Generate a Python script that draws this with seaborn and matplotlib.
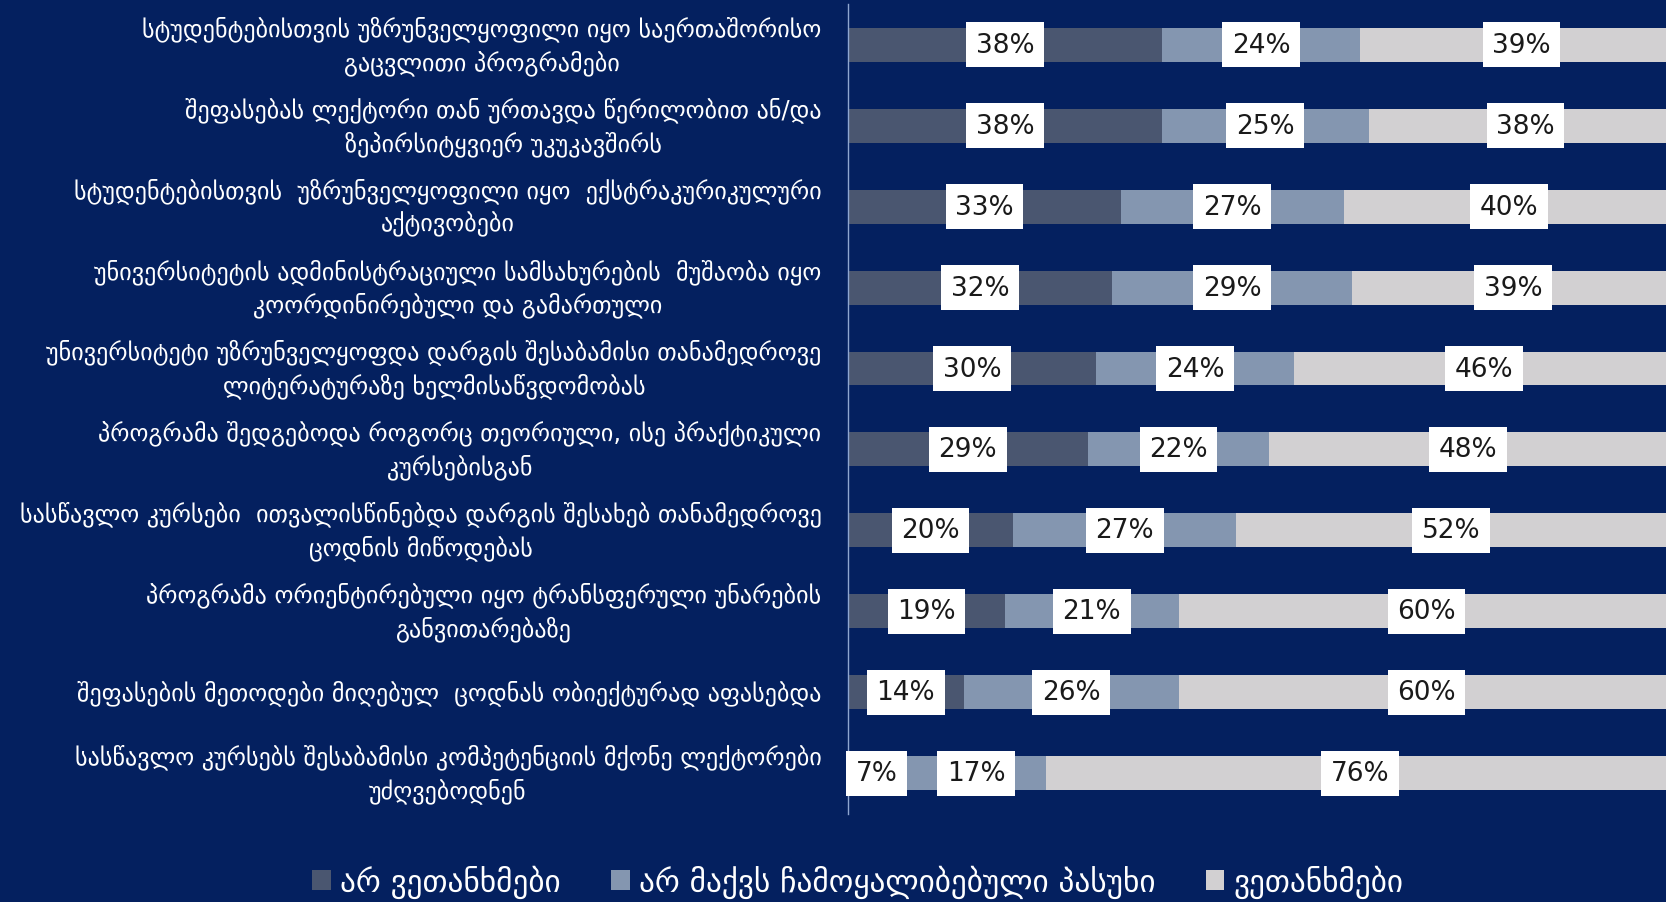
import matplotlib
matplotlib.use("Agg")
import matplotlib.pyplot as plt
from matplotlib.patches import Patch
import seaborn as sns
import pandas as pd
import numpy as np

categories = [
    "სტუდენტებისთვის უზრუნველყოფილი იყო საერთაშორისო\nგაცვლითი პროგრამები",
    "შეფასებას ლექტორი თან ურთავდა წერილობით ან/და\nზეპირსიტყვიერ უკუკავშირს",
    "სტუდენტებისთვის  უზრუნველყოფილი იყო  ექსტრაკურიკულური\nაქტივობები",
    "უნივერსიტეტის ადმინისტრაციული სამსახურების  მუშაობა იყო\nკოორდინირებული და გამართული",
    "უნივერსიტეტი უზრუნველყოფდა დარგის შესაბამისი თანამედროვე\nლიტერატურაზე ხელმისაწვდომობას",
    "პროგრამა შედგებოდა როგორც თეორიული, ისე პრაქტიკული\nკურსებისგან",
    "სასწავლო კურსები  ითვალისწინებდა დარგის შესახებ თანამედროვე\nცოდნის მიწოდებას",
    "პროგრამა ორიენტირებული იყო ტრანსფერული უნარების\nგანვითარებაზე",
    "შეფასების მეთოდები მიღებულ  ცოდნას ობიექტურად აფასებდა",
    "სასწავლო კურსებს შესაბამისი კომპეტენციის მქონე ლექტორები\nუძღვებოდნენ",
]
disagree = [38, 38, 33, 32, 30, 29, 20, 19, 14, 7]
neutral = [24, 25, 27, 29, 24, 22, 27, 21, 26, 17]
agree = [39, 38, 40, 39, 46, 48, 52, 60, 60, 76]
series_names = ["არ ვეთანხმები", "არ მაქვს ჩამოყალიბებული პასუხი", "ვეთანხმები"]

BG = "#04205f"
colors = ["#4a5670", "#8496b0", "#d2d0d2"]

df = pd.DataFrame({"cat": categories, "d": disagree, "n": neutral, "a": agree})
df["c1"] = df["d"]
df["c2"] = df["d"] + df["n"]
df["c3"] = df["d"] + df["n"] + df["a"]

sns.set_theme(style="white")
plt.rcParams["font.family"] = ["DejaVu Sans"]

fig = plt.figure(figsize=(16.66, 9.03), dpi=100)
fig.patch.set_facecolor(BG)
ax = fig.add_axes([0.509, 0.098, 0.491, 0.896])
ax.set_facecolor(BG)

for col, c in zip(["c3", "c2", "c1"], colors[::-1]):
    sns.barplot(data=df, y="cat", x=col, order=categories, orient="h",
                color=c, width=0.42, saturation=1, ax=ax, linewidth=0)

ax.set_xlim(0, 99)
ax.set_ylim(9.5, -0.5)
ax.set_xlabel("")
ax.set_ylabel("")
ax.set_xticks([])
for s in ["top", "right", "bottom"]:
    ax.spines[s].set_visible(False)
ax.spines["left"].set_color("#8fa6d0")
ax.spines["left"].set_linewidth(1.0)

ax.tick_params(axis="y", length=0, pad=19, labelsize=17.4, labelcolor="white")
for t in ax.get_yticklabels():
    t.set_multialignment("center")
    t.set_linespacing(1.4)
    t.set_verticalalignment("center")

for i in range(len(categories)):
    starts = [0, disagree[i], disagree[i] + neutral[i]]
    vals = [disagree[i], neutral[i], agree[i]]
    for s0, v in zip(starts, vals):
        ax.text(s0 + v / 2, i, f"{v}%", ha="center", va="center",
                fontsize=19, color="#1a1a1a",
                bbox=dict(boxstyle="square,pad=0.36", fc="white", ec="none"))

handles = [Patch(facecolor=c, edgecolor="none") for c in colors]
leg = fig.legend(handles, series_names, loc="center", bbox_to_anchor=(0.515, 0.023),
                 ncol=3, frameon=False, fontsize=22.5, labelcolor="white",
                 handlelength=0.6, handleheight=0.6, handletextpad=0.3,
                 columnspacing=1.6)

fig.savefig("out.png", dpi=100, facecolor=BG)
